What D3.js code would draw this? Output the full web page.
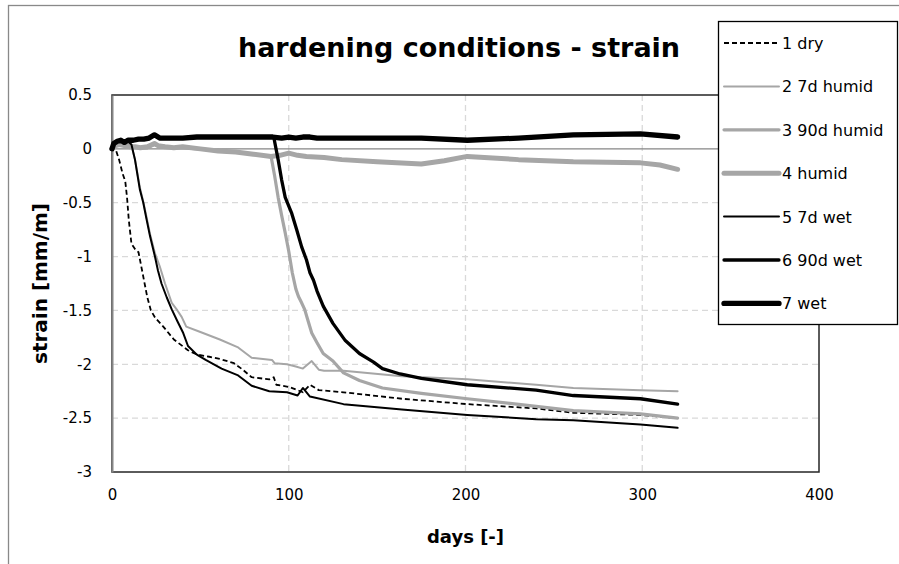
<!DOCTYPE html>
<html>
<head>
<meta charset="utf-8">
<script src="https://cdn.jsdelivr.net/npm/d3@7"></script>
<style>
  body { margin: 0; background: #fff; }
  svg { display: block; font-family: "DejaVu Sans", sans-serif; }
</style>
</head>
<body>
<div id="chart"></div>
<script>
// données (jours / déformation mm/m)
const dryDays = [0, 1, 2, 4, 6, 7.5, 8.5, 9.5, 11, 13, 15, 17.5, 20, 22, 24.5, 29, 35, 43, 48, 55, 61, 69, 74, 79, 89, 91.5, 93, 100, 105, 108, 112, 117, 131, 164, 201, 240, 261, 299, 320];
const dryStrain = [0, 0.02, 0, -0.1, -0.23, -0.3, -0.45, -0.66, -0.88, -0.93, -0.96, -1.17, -1.38, -1.5, -1.57, -1.65, -1.77, -1.87, -1.91, -1.93, -1.95, -1.99, -2.05, -2.12, -2.14, -2.12, -2.19, -2.21, -2.24, -2.26, -2.19, -2.24, -2.26, -2.32, -2.37, -2.41, -2.45, -2.47, -2.5];

const humid7Days = [0, 2, 4, 6, 9, 11, 13, 15.8, 17.7, 19.5, 21.5, 24.3, 27, 30, 33.8, 37, 39.4, 42, 50, 61, 71, 79, 90.5, 92, 99, 104, 108, 113, 117, 120, 131, 164, 201, 240, 261, 299, 320];
const humid7Strain = [0, 0.05, 0.06, 0.07, 0.06, 0.03, -0.1, -0.36, -0.49, -0.63, -0.79, -0.97, -1.09, -1.25, -1.43, -1.5, -1.56, -1.65, -1.7, -1.77, -1.84, -1.94, -1.96, -1.99, -2.0, -2.02, -2.04, -1.97, -2.05, -2.06, -2.06, -2.11, -2.14, -2.19, -2.22, -2.24, -2.25];

const humid90Days = [0, 2, 4, 7, 10, 13, 16, 20, 24, 26, 30, 35, 40, 50, 60, 70, 80, 90, 92, 94, 96, 98, 100, 102, 104, 105.5, 107, 109, 111, 113, 116, 119.5, 125, 131, 140, 153, 175, 201, 240, 261, 299, 320];
const humid90Strain = [0, 0.03, 0.04, 0.03, 0.02, 0.02, 0.01, 0.01, 0.04, 0.03, 0.02, 0.01, 0.01, 0, -0.02, -0.03, -0.05, -0.07, -0.25, -0.45, -0.62, -0.78, -0.95, -1.15, -1.3, -1.37, -1.42, -1.49, -1.6, -1.71, -1.8, -1.9, -1.97, -2.08, -2.15, -2.22, -2.27, -2.32, -2.39, -2.43, -2.46, -2.5];

const humidDays = [0, 2, 4, 7, 10, 13, 16, 20, 24, 26, 30, 35, 40, 50, 60, 70, 80, 90, 95, 100, 105, 110, 120, 130, 150, 175, 188, 201, 230, 261, 299, 310, 320];
const humidStrain = [0, 0.03, 0.04, 0.03, 0.02, 0.02, 0.01, 0.02, 0.05, 0.03, 0.02, 0.01, 0.02, 0, -0.02, -0.03, -0.05, -0.07, -0.06, -0.04, -0.06, -0.07, -0.08, -0.1, -0.12, -0.14, -0.11, -0.07, -0.1, -0.12, -0.13, -0.15, -0.19];

const wet7Days = [0, 2, 4, 6, 9, 11, 13, 15.8, 17.7, 19.5, 21.5, 24.3, 26, 28, 31, 33.8, 37, 40.3, 43, 48, 53, 62, 71, 79, 89, 99, 105, 108, 112, 131, 164, 201, 240, 261, 299, 320];
const wet7Strain = [0, 0.06, 0.07, 0.08, 0.07, 0.04, -0.1, -0.38, -0.5, -0.65, -0.81, -1.0, -1.13, -1.25, -1.38, -1.49, -1.6, -1.71, -1.83, -1.91, -1.96, -2.04, -2.1, -2.2, -2.25, -2.26, -2.29, -2.22, -2.3, -2.37, -2.42, -2.47, -2.51, -2.52, -2.56, -2.59];

const wet90Days = [0, 1, 3, 5, 7, 9, 12, 15, 18, 21, 24, 27, 32, 40, 48, 60, 75, 91.5, 94, 96, 98, 101.7, 104.5, 107.3, 110, 112, 114, 116, 119.5, 125, 132, 140, 148, 153, 163, 175, 201, 240, 261, 299, 320];
const wet90Strain = [0, 0.05, 0.07, 0.08, 0.06, 0.08, 0.08, 0.09, 0.09, 0.1, 0.13, 0.1, 0.1, 0.1, 0.11, 0.11, 0.11, 0.11, -0.1, -0.29, -0.45, -0.6, -0.75, -0.91, -1.03, -1.15, -1.22, -1.32, -1.46, -1.62, -1.78, -1.9, -1.98, -2.04, -2.09, -2.13, -2.19, -2.24, -2.29, -2.32, -2.37];

const wetDays = [0, 1, 3, 5, 7, 9, 12, 15, 18, 21, 24, 27, 32, 40, 48, 60, 75, 91, 96, 100, 104, 108, 112, 116, 130, 150, 175, 201, 230, 261, 299, 320];
const wetStrain = [0, 0.05, 0.07, 0.08, 0.06, 0.08, 0.08, 0.09, 0.09, 0.1, 0.13, 0.1, 0.1, 0.1, 0.11, 0.11, 0.11, 0.11, 0.1, 0.11, 0.1, 0.11, 0.11, 0.1, 0.1, 0.1, 0.1, 0.08, 0.1, 0.13, 0.14, 0.11];

const seriesNames = ["1 dry", "2 7d humid", "3 90d humid", "4 humid", "5 7d wet", "6 90d wet", "7 wet"];
const xTicks = [0, 100, 200, 300, 400];
const yTicks = [0.5, 0, -0.5, -1, -1.5, -2, -2.5, -3];

const series = [
  { name: seriesNames[0], days: dryDays, vals: dryStrain, color: "#000", width: 1.8, dash: "5,3" },
  { name: seriesNames[1], days: humid7Days, vals: humid7Strain, color: "#a6a6a6", width: 2, dash: null },
  { name: seriesNames[2], days: humid90Days, vals: humid90Strain, color: "#a6a6a6", width: 3.2, dash: null },
  { name: seriesNames[3], days: humidDays, vals: humidStrain, color: "#a6a6a6", width: 5, dash: null },
  { name: seriesNames[4], days: wet7Days, vals: wet7Strain, color: "#000", width: 2, dash: null },
  { name: seriesNames[5], days: wet90Days, vals: wet90Strain, color: "#000", width: 3.3, dash: null },
  { name: seriesNames[6], days: wetDays, vals: wetStrain, color: "#000", width: 5.3, dash: null }
];

const width = 899, height = 564;
const margin = { top: 95, right: 80, bottom: 92, left: 112 };

const svg = d3.select("#chart").append("svg")
  .attr("width", width)
  .attr("height", height);

// cadre extérieur
svg.append("rect")
  .attr("x", 8.5).attr("y", 5.5)
  .attr("width", 1000).attr("height", 1000)
  .attr("fill", "none").attr("stroke", "#898989").attr("stroke-width", 1.3);

const x = d3.scaleLinear().domain([0, 400]).range([margin.left, width - margin.right]);
const y = d3.scaleLinear().domain([-3, 0.5]).range([height - margin.bottom, margin.top]);

// grille
svg.append("g").selectAll("line")
  .data(xTicks.slice(1, -1))
  .enter().append("line")
  .attr("x1", d => x(d)).attr("x2", d => x(d))
  .attr("y1", y(0.5)).attr("y2", y(-3))
  .attr("stroke", "#d9d9d9").attr("stroke-width", 1.3).attr("stroke-dasharray", "6,4");

svg.append("g").selectAll("line")
  .data(yTicks.filter(d => d < 0 && d > -3))
  .enter().append("line")
  .attr("x1", x(0)).attr("x2", x(400))
  .attr("y1", d => y(d)).attr("y2", d => y(d))
  .attr("stroke", "#d9d9d9").attr("stroke-width", 1.3).attr("stroke-dasharray", "6,4");

// bordure de la zone de tracé
svg.append("rect")
  .attr("x", x(0)).attr("y", y(0.5))
  .attr("width", x(400) - x(0)).attr("height", y(-3) - y(0.5))
  .attr("fill", "none").attr("stroke", "#262626").attr("stroke-width", 1.5);

// axe horizontal à 0
svg.append("line")
  .attr("x1", x(0)).attr("x2", x(400))
  .attr("y1", y(0)).attr("y2", y(0))
  .attr("stroke", "#868686").attr("stroke-width", 1.3);

// axe vertical
const yAxis = d3.axisLeft(y).tickValues(yTicks).tickSize(0).tickPadding(20).tickFormat(d => d);
svg.append("g")
  .attr("transform", `translate(${x(0)},0)`)
  .call(yAxis)
  .call(g => g.select(".domain").attr("stroke", "#868686").attr("stroke-width", 2))
  .call(g => g.selectAll("text").attr("font-size", 15).attr("fill", "#000").attr("font-family", "DejaVu Sans"));

const xAxis = d3.axisBottom(x).tickValues(xTicks).tickSize(0).tickPadding(17).tickFormat(d => d);
svg.append("g")
  .attr("transform", `translate(0,${y(-3)})`)
  .call(xAxis)
  .call(g => g.select(".domain").remove())
  .call(g => g.selectAll("text").attr("font-size", 15).attr("fill", "#000").attr("font-family", "DejaVu Sans"));

// courbes
const line = d3.line()
  .x(d => x(d[0]))
  .y(d => y(d[1]));

series.forEach(s => {
  svg.append("path")
    .datum(s.days.map((d, i) => [d, s.vals[i]]))
    .attr("d", line)
    .attr("fill", "none")
    .attr("stroke", s.color)
    .attr("stroke-width", s.width)
    .attr("stroke-linejoin", "round")
    .attr("stroke-linecap", s.dash ? "butt" : "round")
    .attr("stroke-dasharray", s.dash);
});

// titres
svg.append("text")
  .attr("x", 459).attr("y", 57)
  .attr("text-anchor", "middle")
  .attr("font-size", 27).attr("font-weight", "bold")
  .text("hardening conditions - strain");

svg.append("text")
  .attr("x", (x(0) + x(400)) / 2).attr("y", 543)
  .attr("text-anchor", "middle")
  .attr("font-size", 18).attr("font-weight", "bold")
  .text("days [-]");

svg.append("text")
  .attr("transform", `translate(47,${(y(0.5) + y(-3)) / 2}) rotate(-90)`)
  .attr("text-anchor", "middle")
  .attr("font-size", 20).attr("font-weight", "bold")
  .text("strain [mm/m]");

// légende
const lg = svg.append("g").attr("transform", "translate(718,21)");
lg.append("rect")
  .attr("x", 0.5).attr("y", 0.5)
  .attr("width", 179).attr("height", 303)
  .attr("fill", "#fff").attr("stroke", "#000").attr("stroke-width", 1.3);

const item = lg.selectAll(".legend")
  .data(series)
  .enter().append("g")
  .attr("class", "legend")
  .attr("transform", (d, i) => `translate(0,${22 + i * 43.4})`);

item.append("line")
  .attr("x1", 6).attr("x2", 61)
  .attr("stroke", d => d.color)
  .attr("stroke-width", d => d.width)
  .attr("stroke-linecap", d => d.dash ? "butt" : "round")
  .attr("stroke-dasharray", d => d.dash);

item.append("text")
  .attr("x", 64).attr("y", 6)
  .attr("font-size", 16)
  .text(d => d.name);
</script>
</body>
</html>
